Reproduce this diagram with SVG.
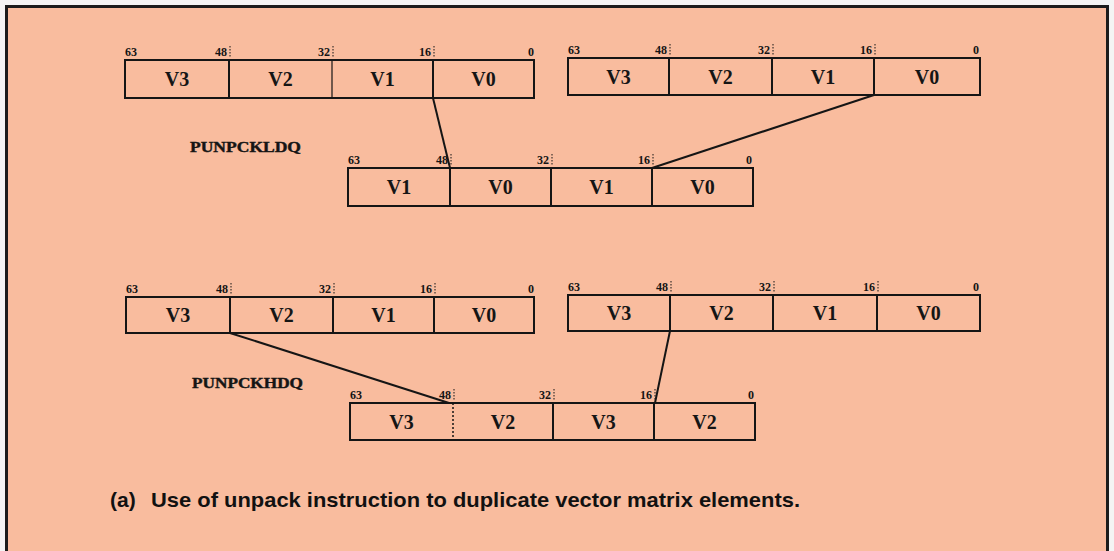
<svg xmlns="http://www.w3.org/2000/svg" width="1114" height="551" viewBox="0 0 1114 551">
  <style>
    .box { fill: none; stroke: #151515; stroke-width: 2; }
    .div { stroke: #151515; stroke-width: 2; }
    .thin { stroke: #151515; stroke-width: 1.2; }
    .dot { stroke: #151515; stroke-width: 1.5; stroke-dasharray: 2 2; }
    .tick { stroke: #151515; stroke-width: 1; stroke-dasharray: 1.5 1.5; }
    .v { font-family: "Liberation Serif", serif; font-weight: bold; font-size: 20px; fill: #151515; text-anchor: middle; }
    .bit { font-family: "Liberation Serif", serif; font-weight: bold; font-size: 12px; fill: #151515; }
    .end { text-anchor: end; }
    .op { font-family: "Liberation Serif", serif; font-weight: bold; font-size: 14px; fill: #151515; stroke: #151515; stroke-width: 0.4; }
    .cap { font-family: "Liberation Sans", Arial, sans-serif; font-weight: bold; font-size: 21px; fill: #111; }
    .conn { stroke: #151515; stroke-width: 2; fill: none; }
  </style>

  <!-- page and panel -->
  <rect x="0" y="0" width="1114" height="551" fill="#f4f4f4"/>
  <rect x="6.5" y="6.5" width="1101" height="560" fill="#F9BC9E" stroke="#1c1c1c" stroke-width="3"/>

  <!-- PUNPCKLDQ sources -->
  <g id="reg-low-src1">
    <rect class="box" x="125" y="60" width="409" height="38"/>
    <line class="div" x1="229" y1="60" x2="229" y2="98"/>
    <line class="thin" x1="332" y1="60" x2="332" y2="98"/>
    <line class="div" x1="433" y1="60" x2="433" y2="98"/>
    <text class="v" x="177" y="86">V3</text>
    <text class="v" x="280.5" y="86">V2</text>
    <text class="v" x="382.5" y="86">V1</text>
    <text class="v" x="483.5" y="86">V0</text>
    <text class="bit" x="125" y="56">63</text>
    <text class="bit end" x="227" y="56">48</text>
    <text class="bit end" x="330" y="56">32</text>
    <text class="bit end" x="431" y="56">16</text>
    <text class="bit end" x="534" y="56">0</text>
    <line class="tick" x1="230" y1="46" x2="230" y2="57"/>
    <line class="tick" x1="333" y1="46" x2="333" y2="57"/>
    <line class="tick" x1="434" y1="46" x2="434" y2="57"/>
  </g>

  <g id="reg-low-src2">
    <rect class="box" x="568" y="58" width="412" height="37"/>
    <line class="div" x1="669" y1="58" x2="669" y2="95"/>
    <line class="div" x1="772" y1="58" x2="772" y2="95"/>
    <line class="div" x1="874" y1="58" x2="874" y2="95"/>
    <text class="v" x="618.5" y="83.5">V3</text>
    <text class="v" x="720.5" y="83.5">V2</text>
    <text class="v" x="823" y="83.5">V1</text>
    <text class="v" x="927" y="83.5">V0</text>
    <text class="bit" x="568" y="54">63</text>
    <text class="bit end" x="667" y="54">48</text>
    <text class="bit end" x="770" y="54">32</text>
    <text class="bit end" x="872" y="54">16</text>
    <text class="bit end" x="979" y="54">0</text>
    <line class="tick" x1="670" y1="44" x2="670" y2="55"/>
    <line class="tick" x1="773" y1="44" x2="773" y2="55"/>
    <line class="tick" x1="875" y1="44" x2="875" y2="55"/>
  </g>

  <text id="op-low" class="op" x="190" y="152" textLength="111" lengthAdjust="spacingAndGlyphs">PUNPCKLDQ</text>

  <g id="reg-low-dst">
    <rect class="box" x="348" y="168" width="405" height="38"/>
    <line class="div" x1="450" y1="168" x2="450" y2="206"/>
    <line class="div" x1="551" y1="168" x2="551" y2="206"/>
    <line class="div" x1="652" y1="168" x2="652" y2="206"/>
    <text class="v" x="399" y="194">V1</text>
    <text class="v" x="500.5" y="194">V0</text>
    <text class="v" x="601.5" y="194">V1</text>
    <text class="v" x="702.5" y="194">V0</text>
    <text class="bit" x="348" y="164">63</text>
    <text class="bit end" x="448" y="164">48</text>
    <text class="bit end" x="549" y="164">32</text>
    <text class="bit end" x="650" y="164">16</text>
    <text class="bit end" x="752" y="164">0</text>
    <line class="tick" x1="451" y1="154" x2="451" y2="165"/>
    <line class="tick" x1="552" y1="154" x2="552" y2="165"/>
    <line class="tick" x1="653" y1="154" x2="653" y2="165"/>
  </g>

  <!-- PUNPCKHDQ sources -->
  <g id="reg-high-src1">
    <rect class="box" x="126" y="297" width="408" height="36"/>
    <line class="div" x1="230" y1="297" x2="230" y2="333"/>
    <line class="div" x1="333" y1="297" x2="333" y2="333"/>
    <line class="div" x1="434" y1="297" x2="434" y2="333"/>
    <text class="v" x="178" y="322">V3</text>
    <text class="v" x="281.5" y="322">V2</text>
    <text class="v" x="383.5" y="322">V1</text>
    <text class="v" x="484" y="322">V0</text>
    <text class="bit" x="126" y="293">63</text>
    <text class="bit end" x="228" y="293">48</text>
    <text class="bit end" x="331" y="293">32</text>
    <text class="bit end" x="432" y="293">16</text>
    <text class="bit end" x="534" y="293">0</text>
    <line class="tick" x1="231" y1="283" x2="231" y2="294"/>
    <line class="tick" x1="334" y1="283" x2="334" y2="294"/>
    <line class="tick" x1="435" y1="283" x2="435" y2="294"/>
  </g>

  <g id="reg-high-src2">
    <rect class="box" x="568" y="295" width="412" height="36"/>
    <line class="div" x1="670" y1="295" x2="670" y2="331"/>
    <line class="div" x1="773" y1="295" x2="773" y2="331"/>
    <line class="div" x1="877" y1="295" x2="877" y2="331"/>
    <text class="v" x="619" y="320">V3</text>
    <text class="v" x="721.5" y="320">V2</text>
    <text class="v" x="825" y="320">V1</text>
    <text class="v" x="928.5" y="320">V0</text>
    <text class="bit" x="568" y="291">63</text>
    <text class="bit end" x="668" y="291">48</text>
    <text class="bit end" x="771" y="291">32</text>
    <text class="bit end" x="875" y="291">16</text>
    <text class="bit end" x="979" y="291">0</text>
    <line class="tick" x1="671" y1="281" x2="671" y2="292"/>
    <line class="tick" x1="774" y1="281" x2="774" y2="292"/>
    <line class="tick" x1="878" y1="281" x2="878" y2="292"/>
  </g>

  <text id="op-high" class="op" x="192" y="388" textLength="111" lengthAdjust="spacingAndGlyphs">PUNPCKHDQ</text>

  <g id="reg-high-dst">
    <rect class="box" x="350" y="403" width="405" height="37"/>
    <line class="dot" x1="453" y1="403" x2="453" y2="440"/>
    <line class="div" x1="553" y1="403" x2="553" y2="440"/>
    <line class="div" x1="654" y1="403" x2="654" y2="440"/>
    <text class="v" x="401.5" y="428.5">V3</text>
    <text class="v" x="503" y="428.5">V2</text>
    <text class="v" x="603.5" y="428.5">V3</text>
    <text class="v" x="704.5" y="428.5">V2</text>
    <text class="bit" x="350" y="399">63</text>
    <text class="bit end" x="451" y="399">48</text>
    <text class="bit end" x="551" y="399">32</text>
    <text class="bit end" x="652" y="399">16</text>
    <text class="bit end" x="754" y="399">0</text>
    <line class="tick" x1="454" y1="389" x2="454" y2="400"/>
    <line class="tick" x1="554" y1="389" x2="554" y2="400"/>
    <line class="tick" x1="655" y1="389" x2="655" y2="400"/>
  </g>

  <!-- element routing -->
  <g id="connectors">
    <line class="conn" x1="433" y1="98" x2="450" y2="168"/>
    <line class="conn" x1="874" y1="95" x2="652" y2="168"/>
    <line class="conn" x1="230" y1="333" x2="449" y2="403"/>
    <line class="conn" x1="670" y1="331" x2="655" y2="403"/>
  </g>

  <text id="caption" class="cap" y="507"><tspan x="110">(a)</tspan><tspan x="151" textLength="649" lengthAdjust="spacingAndGlyphs">Use of unpack instruction to duplicate vector matrix elements.</tspan></text>
</svg>
